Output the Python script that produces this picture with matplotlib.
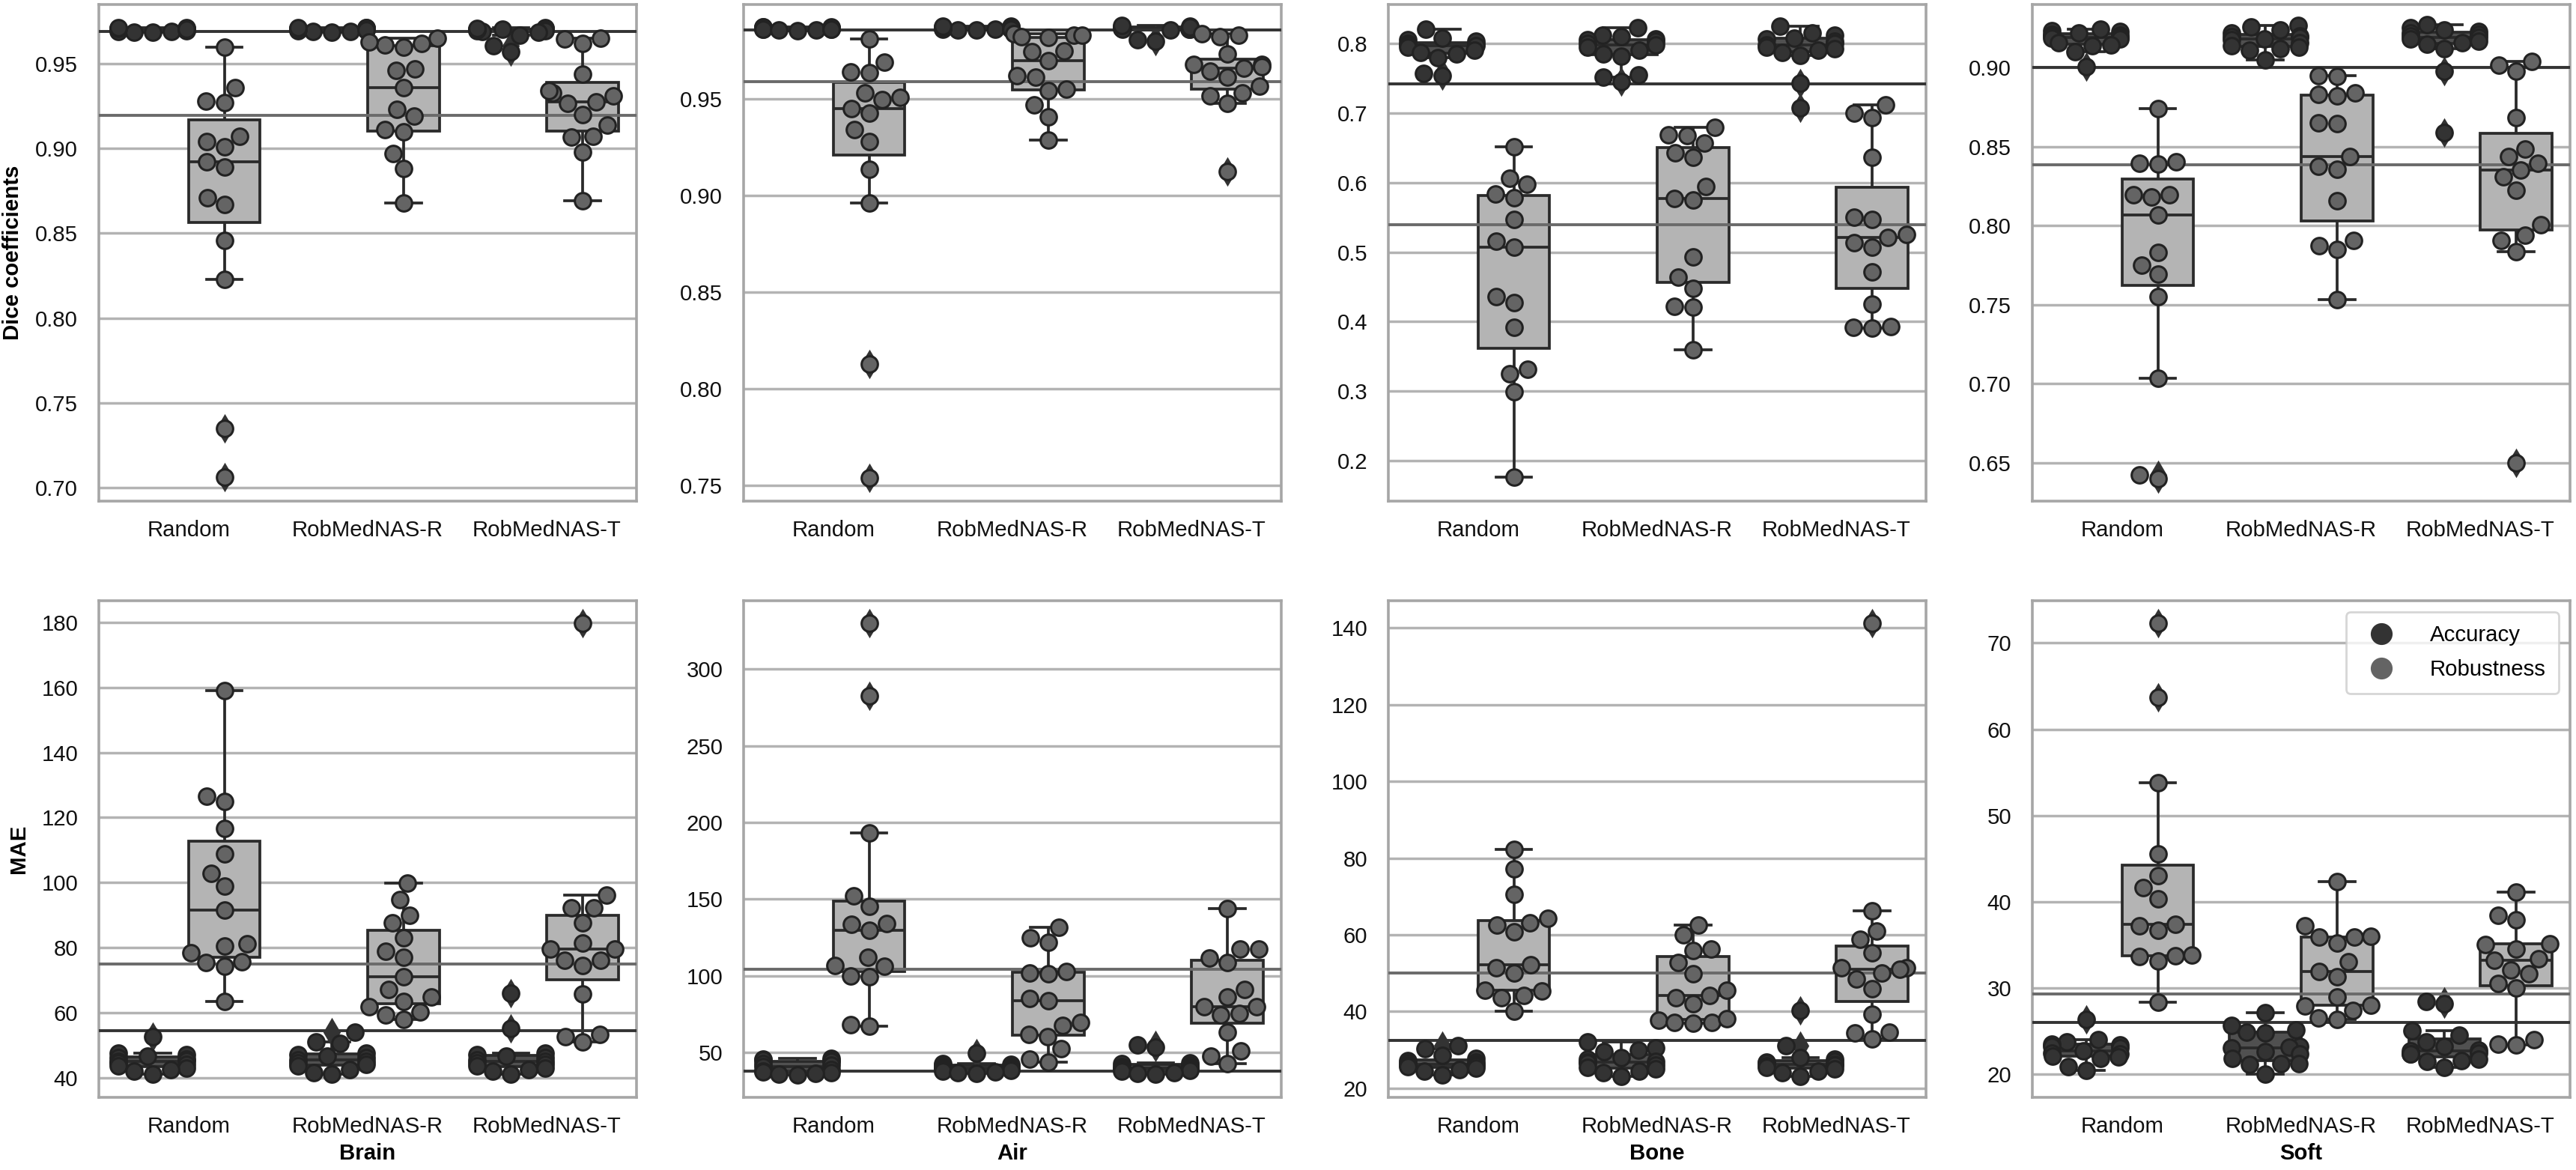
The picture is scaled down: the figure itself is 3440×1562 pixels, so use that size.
import warnings
warnings.filterwarnings("ignore")
import numpy as np
import pandas as pd
import matplotlib
matplotlib.use("Agg")
import matplotlib.pyplot as plt
from matplotlib.lines import Line2D
import seaborn as sns

plt.rcParams["font.family"] = ["Liberation Sans", "DejaVu Sans"]

METHODS = ["Random", "RobMedNAS-R", "RobMedNAS-T"]
TYPES = ["Accuracy", "Robustness"]
TISSUES = ["Brain", "Air", "Bone", "Soft"]
METRICS = ["Dice coefficients", "MAE"]

# ---------------- Dice coefficients ----------------
dice_brain_random_acc = [0.9712, 0.9708, 0.9705, 0.9702, 0.9700, 0.9698, 0.9695, 0.9693, 0.9690, 0.9688, 0.9686, 0.9700, 0.9704, 0.9710, 0.9714]
dice_brain_random_rob = [0.960, 0.936, 0.928, 0.927, 0.907, 0.904, 0.901, 0.892, 0.889, 0.871, 0.867, 0.846, 0.823, 0.735, 0.706]
dice_brain_robr_acc = [0.9715, 0.9711, 0.9707, 0.9703, 0.9700, 0.9698, 0.9696, 0.9693, 0.9690, 0.9688, 0.9702, 0.9705, 0.9709, 0.9713, 0.9700]
dice_brain_robr_rob = [0.965, 0.961, 0.960, 0.962, 0.963, 0.947, 0.946, 0.936, 0.923, 0.919, 0.911, 0.910, 0.897, 0.888, 0.868]
dice_brain_robt_acc = [0.9712, 0.9708, 0.9704, 0.9700, 0.9697, 0.9694, 0.9691, 0.9688, 0.9700, 0.9703, 0.9706, 0.9710, 0.9668, 0.9605, 0.9572]
dice_brain_robt_rob = [0.9645, 0.962, 0.965, 0.944, 0.933, 0.934, 0.9265, 0.9276, 0.931, 0.920, 0.914, 0.9066, 0.907, 0.898, 0.869]

dice_air_random_acc = [0.9872, 0.9869, 0.9866, 0.9863, 0.9861, 0.9859, 0.9857, 0.9855, 0.9853, 0.9858, 0.9862, 0.9865, 0.9868, 0.9871, 0.9860]
dice_air_random_rob = [0.981, 0.969, 0.964, 0.9635, 0.953, 0.9494, 0.9507, 0.945, 0.9425, 0.934, 0.928, 0.9135, 0.896, 0.8127, 0.754]
dice_air_robr_acc = [0.9874, 0.9870, 0.9866, 0.9863, 0.9860, 0.9858, 0.9856, 0.9854, 0.9859, 0.9862, 0.9865, 0.9868, 0.9872, 0.9876, 0.9861]
dice_air_robr_rob = [0.9837, 0.982, 0.9815, 0.9828, 0.9828, 0.9743, 0.9747, 0.9695, 0.962, 0.961, 0.955, 0.954, 0.947, 0.9406, 0.9288]
dice_air_robt_acc = [0.9874, 0.9871, 0.9868, 0.9865, 0.9862, 0.9860, 0.9858, 0.9856, 0.9861, 0.9864, 0.9867, 0.9870, 0.9877, 0.9805, 0.9798]
dice_air_robt_rob = [0.983, 0.982, 0.9837, 0.9732, 0.9676, 0.9676, 0.9667, 0.9657, 0.9644, 0.961, 0.9565, 0.9532, 0.9513, 0.9476, 0.9125]

dice_bone_random_acc = [0.805, 0.800, 0.799, 0.798, 0.803, 0.820, 0.808, 0.797, 0.795, 0.790, 0.787, 0.785, 0.780, 0.757, 0.754]
dice_bone_random_rob = [0.6516, 0.6057, 0.597, 0.584, 0.5786, 0.547, 0.516, 0.5068, 0.4365, 0.4276, 0.392, 0.331, 0.325, 0.299, 0.176]
dice_bone_robr_acc = [0.823, 0.812, 0.810, 0.806, 0.805, 0.803, 0.800, 0.798, 0.795, 0.790, 0.785, 0.782, 0.755, 0.752, 0.745]
dice_bone_robr_rob = [0.679, 0.667, 0.657, 0.669, 0.643, 0.636, 0.594, 0.577, 0.5745, 0.493, 0.464, 0.448, 0.422, 0.421, 0.360]
dice_bone_robt_acc = [0.825, 0.815, 0.812, 0.808, 0.806, 0.803, 0.800, 0.798, 0.795, 0.792, 0.790, 0.787, 0.783, 0.743, 0.707]
dice_bone_robt_rob = [0.700, 0.693, 0.7115, 0.636, 0.550, 0.5474, 0.5135, 0.5073, 0.521, 0.525, 0.471, 0.425, 0.392, 0.391, 0.393]

dice_soft_random_acc = [0.9245, 0.9236, 0.923, 0.922, 0.921, 0.9207, 0.920, 0.919, 0.9185, 0.918, 0.9156, 0.9145, 0.914, 0.910, 0.9007]
dice_soft_random_rob = [0.8743, 0.8394, 0.8392, 0.8405, 0.8197, 0.818, 0.8196, 0.807, 0.783, 0.775, 0.7694, 0.7549, 0.7033, 0.6424, 0.640]
dice_soft_robr_acc = [0.9265, 0.926, 0.924, 0.922, 0.920, 0.9195, 0.919, 0.918, 0.9175, 0.916, 0.914, 0.913, 0.912, 0.911, 0.905]
dice_soft_robr_rob = [0.895, 0.8945, 0.883, 0.8823, 0.884, 0.865, 0.8644, 0.844, 0.8376, 0.8357, 0.8157, 0.7875, 0.7905, 0.7852, 0.7531]
dice_soft_robt_acc = [0.927, 0.9255, 0.924, 0.923, 0.922, 0.921, 0.920, 0.919, 0.918, 0.917, 0.916, 0.915, 0.912, 0.8977, 0.8587]
dice_soft_robt_rob = [0.9018, 0.8979, 0.9041, 0.8686, 0.8486, 0.844, 0.8394, 0.8353, 0.8311, 0.8226, 0.8004, 0.7939, 0.7905, 0.7836, 0.650]

# ---------------- MAE ----------------
mae_brain_random_acc = [52.6, 47.5, 47.0, 46.5, 46.0, 45.7, 45.2, 45.0, 44.5, 44.0, 43.5, 43.0, 42.5, 42.0, 41.0]
mae_brain_random_rob = [159.0, 126.6, 124.9, 116.7, 108.9, 102.9, 99.0, 91.6, 80.4, 81.1, 78.4, 75.3, 74.2, 75.6, 63.5]
mae_brain_robr_acc = [54.0, 51.0, 50.5, 47.5, 47.0, 46.5, 46.0, 45.5, 45.0, 44.5, 44.0, 43.5, 42.5, 41.5, 41.0]
mae_brain_robr_rob = [99.9, 94.7, 89.9, 87.6, 83.0, 78.8, 77.0, 71.0, 67.0, 63.5, 64.7, 61.8, 59.3, 60.1, 57.8]
mae_brain_robt_acc = [66.0, 55.0, 47.5, 47.0, 46.5, 46.0, 45.5, 45.0, 44.5, 44.0, 43.5, 43.0, 42.5, 42.0, 41.0]
mae_brain_robt_rob = [179.7, 96.2, 92.2, 92.1, 87.6, 79.6, 79.5, 81.3, 76.1, 74.4, 76.0, 65.8, 52.6, 50.9, 53.2]

mae_air_random_acc = [46.0, 45.5, 45.0, 44.5, 44.0, 43.0, 42.0, 41.0, 39.0, 38.0, 37.5, 37.0, 36.5, 36.0, 35.5]
mae_air_random_rob = [329.7, 282.5, 193.0, 152.1, 145.1, 133.4, 129.8, 134.1, 112.0, 106.7, 106.2, 99.9, 99.4, 68.2, 67.0]
mae_air_robr_acc = [49.5, 43.0, 42.5, 42.0, 41.5, 41.0, 40.5, 40.0, 39.5, 39.0, 38.5, 38.0, 37.5, 37.0, 36.5]
mae_air_robr_rob = [131.5, 124.9, 121.7, 101.8, 101.3, 103.0, 85.3, 83.6, 67.8, 69.7, 60.5, 61.7, 52.4, 45.9, 43.9]
mae_air_robt_acc = [55.0, 53.5, 43.5, 43.0, 42.0, 41.0, 40.5, 40.0, 39.5, 39.0, 38.5, 38.0, 37.0, 36.5, 36.0]
mae_air_robt_rob = [143.6, 111.5, 108.6, 117.6, 117.5, 90.9, 86.0, 75.5, 74.6, 79.9, 79.8, 63.4, 51.2, 47.8, 43.0]

mae_bone_random_acc = [31.0, 30.3, 28.6, 27.8, 27.1, 26.8, 26.5, 26.1, 26.0, 25.8, 25.6, 25.2, 24.9, 24.5, 23.5]
mae_bone_random_rob = [82.3, 77.2, 70.6, 62.6, 60.7, 63.1, 64.3, 51.4, 50.0, 52.2, 45.3, 43.6, 44.1, 45.6, 40.0]
mae_bone_robr_acc = [32.0, 30.5, 30.0, 29.5, 28.0, 27.5, 27.0, 26.8, 26.5, 26.0, 25.5, 25.0, 24.5, 24.0, 23.0]
mae_bone_robr_rob = [62.6, 59.9, 52.7, 49.8, 56.3, 55.8, 43.6, 42.0, 44.1, 45.6, 37.8, 37.1, 37.0, 37.2, 38.1]
mae_bone_robt_acc = [40.2, 31.0, 28.0, 27.5, 27.0, 26.8, 26.5, 26.2, 26.0, 25.8, 25.5, 25.0, 24.5, 24.0, 23.0]
mae_bone_robt_rob = [141.2, 66.3, 60.9, 58.9, 55.3, 51.4, 48.5, 50.0, 51.0, 51.3, 45.9, 39.3, 34.4, 34.6, 32.9]

mae_soft_random_acc = [26.3, 24.0, 23.7, 23.5, 23.4, 23.2, 23.0, 22.7, 22.4, 22.3, 22.1, 22.0, 21.8, 20.9, 20.4]
mae_soft_random_rob = [72.3, 63.7, 53.8, 45.5, 43.0, 41.6, 40.3, 37.2, 36.7, 37.4, 33.6, 33.1, 33.7, 33.8, 28.3]
mae_soft_robr_acc = [27.1, 24.9, 24.8, 25.1, 25.6, 23.2, 23.0, 22.6, 23.1, 22.3, 21.8, 21.2, 21.25, 21.15, 20.0]
mae_soft_robr_rob = [42.3, 37.2, 35.9, 35.2, 35.95, 35.85, 33.0, 31.9, 31.3, 28.9, 28.0, 27.9, 27.4, 26.5, 26.3]
mae_soft_robt_acc = [28.4, 28.2, 25.0, 24.5, 23.7, 23.2, 22.8, 22.7, 22.4, 22.35, 22.3, 21.7, 21.6, 21.5, 20.8]
mae_soft_robt_rob = [41.1, 38.4, 37.9, 35.1, 34.5, 35.05, 33.4, 33.2, 32.1, 31.6, 30.5, 30.0, 23.5, 23.4, 24.0]

# horizontal reference lines (accuracy / robustness) per tissue
dice_acc_ref = [0.969, 0.9856, 0.742, 0.900]
dice_rob_ref = [0.9194, 0.959, 0.539, 0.8387]
mae_acc_ref = [54.3, 38.1, 32.5, 26.0]
mae_rob_ref = [75.0, 104.2, 50.0, 29.3]

PANEL_DATA = {
    ("Dice coefficients", "Brain"): [dice_brain_random_acc, dice_brain_random_rob, dice_brain_robr_acc, dice_brain_robr_rob, dice_brain_robt_acc, dice_brain_robt_rob],
    ("Dice coefficients", "Air"): [dice_air_random_acc, dice_air_random_rob, dice_air_robr_acc, dice_air_robr_rob, dice_air_robt_acc, dice_air_robt_rob],
    ("Dice coefficients", "Bone"): [dice_bone_random_acc, dice_bone_random_rob, dice_bone_robr_acc, dice_bone_robr_rob, dice_bone_robt_acc, dice_bone_robt_rob],
    ("Dice coefficients", "Soft"): [dice_soft_random_acc, dice_soft_random_rob, dice_soft_robr_acc, dice_soft_robr_rob, dice_soft_robt_acc, dice_soft_robt_rob],
    ("MAE", "Brain"): [mae_brain_random_acc, mae_brain_random_rob, mae_brain_robr_acc, mae_brain_robr_rob, mae_brain_robt_acc, mae_brain_robt_rob],
    ("MAE", "Air"): [mae_air_random_acc, mae_air_random_rob, mae_air_robr_acc, mae_air_robr_rob, mae_air_robt_acc, mae_air_robt_rob],
    ("MAE", "Bone"): [mae_bone_random_acc, mae_bone_random_rob, mae_bone_robr_acc, mae_bone_robr_rob, mae_bone_robt_acc, mae_bone_robt_rob],
    ("MAE", "Soft"): [mae_soft_random_acc, mae_soft_random_rob, mae_soft_robr_acc, mae_soft_robr_rob, mae_soft_robt_acc, mae_soft_robt_rob],
}
REF_LINES = {"Dice coefficients": (dice_acc_ref, dice_rob_ref), "MAE": (mae_acc_ref, mae_rob_ref)}

YLIMS = {
    ("Dice coefficients", "Brain"): (0.692, 0.985),
    ("Dice coefficients", "Air"): (0.742, 0.9987),
    ("Dice coefficients", "Bone"): (0.142, 0.856),
    ("Dice coefficients", "Soft"): (0.6257, 0.940),
    ("MAE", "Brain"): (33.9, 186.7),
    ("MAE", "Air"): (20.8, 344.5),
    ("MAE", "Bone"): (17.6, 147.1),
    ("MAE", "Soft"): (17.3, 74.9),
}
YTICKS = {
    ("Dice coefficients", "Brain"): (np.arange(0.70, 0.951, 0.05), "{:.2f}"),
    ("Dice coefficients", "Air"): (np.arange(0.75, 0.951, 0.05), "{:.2f}"),
    ("Dice coefficients", "Bone"): (np.arange(0.2, 0.81, 0.1), "{:.1f}"),
    ("Dice coefficients", "Soft"): (np.arange(0.65, 0.901, 0.05), "{:.2f}"),
    ("MAE", "Brain"): (np.arange(40, 181, 20), "{:.0f}"),
    ("MAE", "Air"): (np.arange(50, 301, 50), "{:.0f}"),
    ("MAE", "Bone"): (np.arange(20, 141, 20), "{:.0f}"),
    ("MAE", "Soft"): (np.arange(20, 71, 10), "{:.0f}"),
}

BOX_PAL = {"Accuracy": "#505050", "Robustness": "#b4b4b4"}
PT_PAL = {"Accuracy": "#333333", "Robustness": "#646464"}
LINE_C = "#2a2a2a"
GRID_C = "#b3b3b3"
SPINE_C = "#a6a6a6"
FS = 10.6
DPI = 200
PT_SIZE = 7.8
PT_LW = 1.1
HUE_OFF = {"Accuracy": -0.2, "Robustness": 0.2}
GUTTER = 0.19


def swarm_x(ax, xc, values):
    """Beeswarm layout (seaborn-like) in display space, with a gutter clamp."""
    vals = np.asarray(values, float)
    pts = ax.transData.transform(np.column_stack([np.full(len(vals), xc), vals]))
    ypx = pts[:, 1]
    x0 = pts[0, 0]
    d = (PT_SIZE + PT_LW) * DPI / 72.0
    order = np.argsort(ypx, kind="stable")
    placed = []
    xs = np.empty(len(vals))
    for i in order:
        y = ypx[i]
        neigh = [(px, py) for px, py in placed if abs(py - y) < d]
        cands = [x0]
        for px, py in neigh:
            dx = np.sqrt(max(d * d - (py - y) ** 2, 0.0))
            cands += [px - dx, px + dx]
        cands = sorted(cands, key=lambda c: abs(c - x0))
        best = cands[0]
        for cnd in cands:
            if all((cnd - px) ** 2 + (y - py) ** 2 >= d * d - 1e-6 for px, py in neigh):
                best = cnd
                break
        placed.append((best, y))
        xs[i] = best
    xd = ax.transData.inverted().transform(np.column_stack([xs, ypx]))[:, 0]
    return np.clip(xd, xc - GUTTER, xc + GUTTER)


W, H = 3440, 1562
fig = plt.figure(figsize=(W / DPI, H / DPI), dpi=DPI)
lefts = [132, 993, 1854, 2714]
pw = 718
rows = [(6, 669), (802, 1465)]

for r, metric in enumerate(METRICS):
    for c, tissue in enumerate(TISSUES):
        top, bot = rows[r]
        ax = fig.add_axes([lefts[c] / W, 1 - bot / H, pw / W, (bot - top) / H])
        lists = PANEL_DATA[(metric, tissue)]
        recs = []
        k = 0
        for m in METHODS:
            for t in TYPES:
                for v in lists[k]:
                    recs.append((m, t, v))
                k += 1
        df = pd.DataFrame(recs, columns=["method", "type", "value"])
        sns.boxplot(data=df, x="method", y="value", hue="type", order=METHODS, hue_order=TYPES,
                    palette=BOX_PAL, saturation=1, linecolor=LINE_C, linewidth=1.35, width=0.8,
                    flierprops=dict(marker="d", markerfacecolor="#333333", markeredgecolor="#333333",
                                    markersize=8.5),
                    ax=ax, legend=False)
        ax.set_ylim(*YLIMS[(metric, tissue)])
        ax.set_xlim(-0.5, 2.5)
        # swarm points
        k = 0
        for mi, m in enumerate(METHODS):
            for t in TYPES:
                xc = mi + HUE_OFF[t]
                xs = swarm_x(ax, xc, lists[k])
                ax.scatter(xs, lists[k], s=PT_SIZE ** 2, c=PT_PAL[t], edgecolors="#222222",
                           linewidths=PT_LW, zorder=5)
                k += 1
        acc_ref, rob_ref = REF_LINES[metric]
        ax.axhline(acc_ref[c], color="#333333", lw=1.4, zorder=3)
        ax.axhline(rob_ref[c], color="#6a6a6a", lw=1.4, zorder=3)
        ax.set_ylim(*YLIMS[(metric, tissue)])
        ax.set_xlim(-0.5, 2.5)
        ax.set_xticks(range(len(METHODS)))
        ax.set_xticklabels(METHODS)
        ticks, fmt = YTICKS[(metric, tissue)]
        ax.set_yticks(ticks)
        ax.set_yticklabels([fmt.format(t) for t in ticks])
        ax.set_axisbelow(True)
        ax.yaxis.grid(True, color=GRID_C, lw=1.25, zorder=0)
        ax.xaxis.grid(False)
        for s in ax.spines.values():
            s.set_color(SPINE_C)
            s.set_linewidth(1.3)
        ax.tick_params(axis="y", length=0, pad=10, labelsize=FS, colors="#111111")
        ax.tick_params(axis="x", length=0, pad=9, labelsize=FS, colors="#111111")
        ax.set_ylabel(metric if c == 0 else "", fontsize=FS, fontweight="bold", labelpad=6)
        ax.set_xlabel(tissue if r == 1 else "", fontsize=FS, fontweight="bold", labelpad=3)
        if r == 1 and c == 3:
            handles = [Line2D([], [], ls="", marker="o", markersize=9.5, markerfacecolor=PT_PAL[t],
                              markeredgecolor=PT_PAL[t]) for t in TYPES]
            ax.legend(handles, TYPES, loc="upper right", fontsize=FS, frameon=True,
                      edgecolor="#cccccc", handletextpad=1.2, borderpad=0.6, labelspacing=0.6)

fig.savefig("out.png", dpi=DPI)
